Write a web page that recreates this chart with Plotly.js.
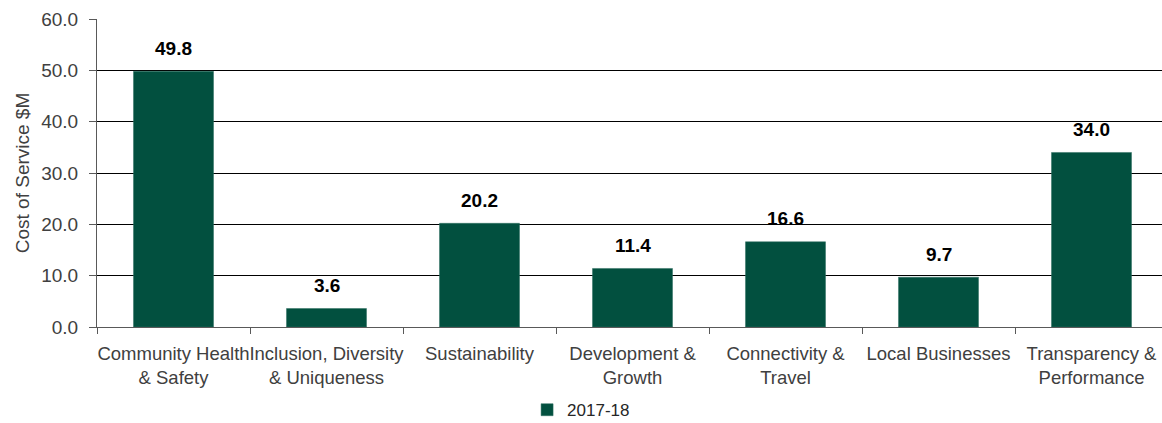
<!DOCTYPE html>
<html>
<head>
<meta charset="utf-8">
<script src="https://cdn.plot.ly/plotly-3.0.1.min.js"></script>
<style>
html,body{margin:0;padding:0;overflow:hidden;background:#fff;}
#chart{width:1168px;height:423px;}
</style>
</head>
<body>
<div id="chart"></div>
<script>
const categories = [
  "Community Health<br>& Safety",
  "Inclusion, Diversity<br>& Uniqueness",
  "Sustainability",
  "Development &<br>Growth",
  "Connectivity &<br>Travel",
  "Local Businesses",
  "Transparency &<br>Performance"
];
const values2017_18 = [49.8, 3.6, 20.2, 11.4, 16.6, 9.7, 34.0];
const seriesName = "2017-18";
const yTickVals = [0, 10, 20, 30, 40, 50, 60];

const FONT = "'Liberation Sans', Arial, sans-serif";

const trace = {
  type: 'bar',
  x: categories,
  y: values2017_18,
  name: seriesName,
  marker: {color: '#02503F', line: {color: '#2f6f60', width: 0.5}},
  hoverinfo: 'skip'
};

const annotations = categories.map((c, i) => ({
  x: c, y: values2017_18[i], xref: 'x', yref: 'y',
  text: '<b>' + values2017_18[i].toFixed(1) + '</b>',
  showarrow: false, yanchor: 'middle', yshift: 23,
  font: {family: FONT, size: 19, color: '#000'}
}));

const layout = {
  width: 1168, height: 423,
  margin: {l: 97, r: 0, t: 19, b: 96, autoexpand: false},
  paper_bgcolor: '#fff', plot_bgcolor: '#fff',
  font: {family: FONT, size: 18, color: '#404040'},
  bargap: 0.477,
  showlegend: true,
  legend: {
    orientation: 'h', x: 0.452, xanchor: 'center', y: -0.27, yanchor: 'middle',
    font: {family: FONT, size: 17, color: '#262626'}
  },
  xaxis: {
    type: 'category',
    showline: true, linecolor: '#595959', linewidth: 1,
    ticks: 'outside', tickson: 'boundaries', ticklen: 6, tickcolor: '#595959',
    tickangle: 0, ticklabelstandoff: 10,
    showgrid: false, zeroline: false,
    tickfont: {family: FONT, size: 18.5, color: '#404040'},
    automargin: false
  },
  yaxis: {
    range: [0, 60], tickvals: yTickVals, tickformat: '.1f',
    showline: true, linecolor: '#595959', linewidth: 1,
    ticks: 'outside', ticklen: 7, tickcolor: '#595959',
    ticklabelstandoff: 7,
    showgrid: true, gridcolor: '#000', gridwidth: 1,
    zeroline: false,
    tickfont: {family: FONT, size: 19, color: '#404040'},
    title: {text: 'Cost of Service $M', font: {family: FONT, size: 19, color: '#404040'}, standoff: 6},
    automargin: false
  },
  annotations: annotations
};

Plotly.newPlot('chart', [trace], layout, {displayModeBar: false, staticPlot: true});
</script>
</body>
</html>
